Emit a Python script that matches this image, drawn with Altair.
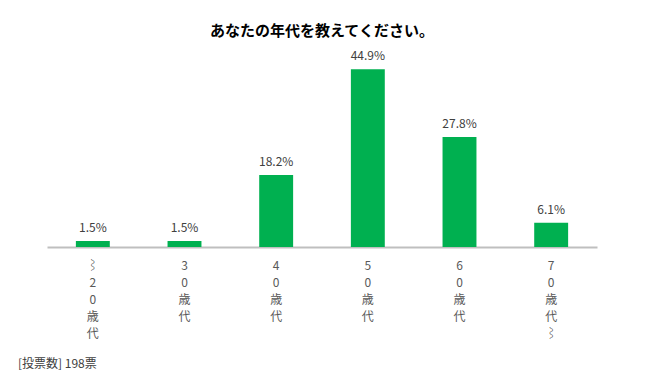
import altair as alt
import pandas as pd

categories = ["⌇20歳代", "30歳代", "40歳代", "50歳代", "60歳代", "70歳代⌇"]
values = [1.5, 1.5, 18.2, 44.9, 27.8, 6.1]
labels = ["1.5%", "1.5%", "18.2%", "44.9%", "27.8%", "6.1%"]
title_text = "あなたの年代を教えてください。"
footer_text = "[投票数] 198票"

df = pd.DataFrame({"cat": categories, "val": values, "lab": labels})

FONT = "Noto Sans CJK JP"

x_enc = alt.X(
    "cat:N",
    sort=categories,
    title=None,
    scale=alt.Scale(paddingInner=0.63, paddingOuter=0.315),
    axis=alt.Axis(
        labelAngle=0,
        labelExpr="split(datum.label, '')",
        labelLineHeight=17,
        labelFontSize=12,
        labelColor="#595959",
        labelFont=FONT,
        labelPadding=13,
        labelBaseline="top",
        ticks=False,
        domainColor="#bfbfbf",
        domainWidth=2,
        grid=False,
    ),
)
y_enc = alt.Y("val:Q", scale=alt.Scale(domain=[0, 50], nice=False), axis=None)

base = alt.Chart(df)
bars = base.mark_bar(color="#00B050").encode(x=x_enc, y=y_enc)
text = base.mark_text(
    baseline="bottom", dy=-6, fontSize=12, color="#404040", font=FONT
).encode(x=alt.X("cat:N", sort=categories), y="val:Q", text="lab:N")

footer = alt.Chart(pd.DataFrame({"t": [footer_text]})).mark_text(
    align="left", baseline="middle", fontSize=12, color="#404040", font=FONT
).encode(x=alt.value(-29), y=alt.value(315), text="t:N")

chart = alt.layer(bars, text, footer).properties(
    width=550,
    height=198,
    background="white",
    autosize=alt.AutoSizeParams(type="none"),
    padding={"left": 39, "top": 41, "right": 42, "bottom": 125},
    title=alt.TitleParams(
        title_text, fontSize=15, fontWeight="bold", font=FONT, color="#000000",
        anchor="middle", offset=10,
    ),
).configure_view(strokeWidth=0, stroke="transparent")

chart.save("out.html", embed_options={"renderer": "svg", "actions": False})
